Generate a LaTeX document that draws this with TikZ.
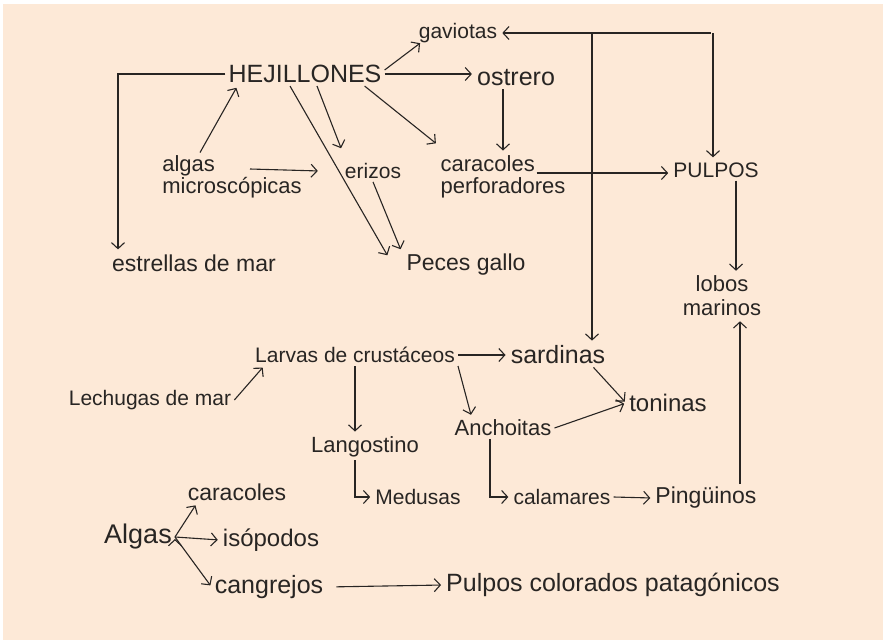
\documentclass[tikz,border=0pt]{standalone}
\usepackage{fontspec}
\setmainfont{Liberation Sans}
\usetikzlibrary{arrows.meta}
\definecolor{paper}{RGB}{253,233,215}
\definecolor{ink}{RGB}{40,37,35}

\begin{document}
\begin{tikzpicture}[x=1pt,y=-1pt,>={Straight Barb[length=6pt,width=13pt]}]
        \tikzstyle{specie} = [text=ink,inner sep=3pt,font=\fontsize{23}{20}\selectfont]
        \tikzstyle{link} = [draw=ink,line width=1.1pt,shorten >=2pt]

        \fill[white] (0,0) rectangle (883,640);
        \fill[paper] (3,4) rectangle (883,640);
        \useasboundingbox (0,0) rectangle (883,640);


        \node[specie,font=\fontsize{21}{20}\selectfont] (gav) at (458,33){gaviotas};
        \node[specie,font=\fontsize{25}{20}\selectfont] (hej) at (305,74){HEJILLONES};
        \node[specie,font=\fontsize{25}{20}\selectfont] (ost) at (516,78){ostrero};
        \node[specie,align=left,font=\fontsize{22}{22}\selectfont] (alg) at (232,177){algas\\microscópicas};
        \node[specie,font=\fontsize{21}{20}\selectfont] (eri) at (373,171){erizos};
        \node[specie,align=left,font=\fontsize{22}{22}\selectfont] (car) at (503,177){caracoles\\perforadores};
        \node[specie,font=\fontsize{21}{20}\selectfont] (pul) at (716,170){PULPOS};
        \node[specie] (est) at (194,263){estrellas de mar};
        \node[specie] (pec) at (466,265){Peces gallo};
        \node[specie,align=center,font=\fontsize{22}{24}\selectfont] (lob) at (722,296){lobos\\marinos};


        \node[specie,font=\fontsize{21}{20}\selectfont] (lar) at (355,355){Larvas de crustáceos};
        \node[specie,font=\fontsize{25}{20}\selectfont] (sar) at (558,355){sardinas};
        \node[specie,font=\fontsize{21}{20}\selectfont] (lec) at (150,400){Lechugas de mar};
        \node[specie,font=\fontsize{22}{20}\selectfont] (ang) at (365,447){Langostino};
        \node[specie,font=\fontsize{22}{20}\selectfont] (anc) at (503,428){Anchoitas};
        \node[specie,font=\fontsize{24}{20}\selectfont] (ton) at (668,403){toninas};
        \node[specie,font=\fontsize{21}{20}\selectfont] (med) at (418,497){Medusas};
        \node[specie,font=\fontsize{21}{20}\selectfont] (cal) at (562,497){calamares};
        \node[specie] (pin) at (706,498){Pingüinos};


        \node[specie,font=\fontsize{27}{20}\selectfont] (alga) at (138,537){Algas};
        \node[specie] (cara) at (237,492){caracoles};
        \node[specie,font=\fontsize{24}{20}\selectfont] (iso) at (271,540){isópodos};
        \node[specie,font=\fontsize{25}{20}\selectfont] (can) at (269,587){cangrejos};
        \node[specie,font=\fontsize{25}{20}\selectfont] (pcp) at (613,585){Pulpos colorados patagónicos};

        \coordinate (j1) at (592,33);
        \coordinate (j2) at (713,33);


        \draw[link,->] ([yshift=4pt]hej.east) -- ([xshift=6pt,yshift=4pt]gav.south west);
        \draw[link,->] (hej.east) -- (hej.east -| ost.west);
        \draw[link,->] (hej.west) -| ([xshift=9pt]est.north west);
        \draw[link,->] ([xshift=-32pt]alg.north) -- ([xshift=12pt]hej.south west);
        \draw[link,->] ([xshift=18pt,yshift=8pt]alg.center) -- ([xshift=-22pt]eri.west);
        \draw[link,->] ([xshift=12pt]hej.south) -- ([yshift=10pt]eri.north west);
        \draw[link,->] ([xshift=-15pt]hej.south) -- ([xshift=-15pt,yshift=8pt]pec.west);
        \draw[link,->] (eri.south) -- ([xshift=-2pt]pec.north west);
        \draw[link,->] ([xshift=-20pt]hej.south east) -- ([yshift=8pt]car.north west);
        \draw[link,->] (ost.south -| car.north) -- (car.north);
        \draw[link,->] ([xshift=-32pt,yshift=4pt]car.east) -- ([yshift=4pt]car.east -| pul.west);

        \draw[link] (j1) -- (j2);
        \draw[link,->] (j1) -- (gav.east);
        \draw[link,->] (j2) -- (j2 |- pul.north);
        \draw[link,->] (j1) -- (j1 |- sar.north);
        \draw[link,->] ([xshift=20pt]pul.south) -- ([xshift=20pt]pul.south |- lob.north);
        \draw[link,->] ([xshift=34pt]pin.north) -- ([xshift=34pt]pin.north |- lob.south);


        \draw[link,->] (lec.east) -- ([xshift=12pt]lar.south west);
        \draw[link,->] (lar.east) -- (sar.west);
        \draw[link,->] (lar.south east) -- ([xshift=20pt]anc.north west);
        \draw[link,->] (lar.south) -- (lar.south |- ang.north);
        \draw[link,->] ([xshift=-15pt]sar.south east) -- (ton.west);
        \draw[link,->] (anc.east) -- (ton.west);
        \draw[link,->] ([xshift=-10pt]ang.south) |- (med.west);
        \draw[link,->] ([xshift=-13pt]anc.south) |- (cal.west);
        \draw[link,->] (cal.east) -- (pin.west);


        \draw[link,->] (alga.east) edge ([xshift=12pt]cara.south west) (alga.east) edge (iso.west) (alga.east) edge (can.west);
        \draw[link,->,shorten <=10pt] (can.east) -- (pcp.west);

\end{tikzpicture}
\end{document}
